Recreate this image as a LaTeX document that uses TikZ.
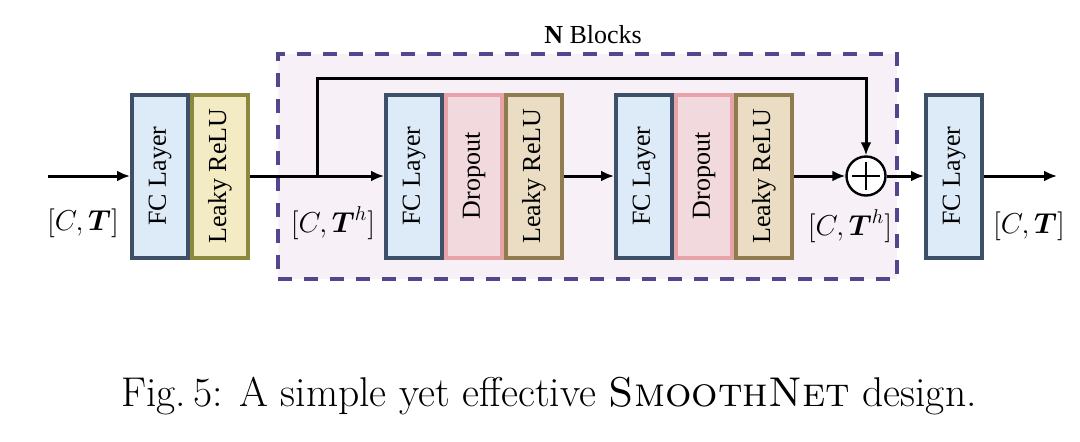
\documentclass[tikz,border=0pt]{standalone}
\usepackage{amsmath}
\usepackage{fontspec}
\usetikzlibrary{positioning,arrows.meta}
\newfontfamily\timesfont{Liberation Serif}
\newcommand{\boxfont}{\timesfont\fontsize{13}{15}\selectfont}

\definecolor{fcfill}{HTML}{DDEBF8}
\definecolor{fcedge}{HTML}{3D5068}
\definecolor{dropfill}{HTML}{F1D9DD}
\definecolor{dropedge}{HTML}{E8A3A9}
\definecolor{reluafill}{HTML}{F3EBC3}
\definecolor{reluaedge}{HTML}{8C893F}
\definecolor{relubfill}{HTML}{EADDC3}
\definecolor{relubedge}{HTML}{8E7C4E}
\definecolor{framefill}{HTML}{F7F0F7}
\definecolor{frameedge}{HTML}{54468E}

\tikzset{
  layer/.style={draw, line width=2pt, minimum width=28pt, minimum height=81.5pt, inner sep=0pt, font=\boxfont},
  fclayer/.style={layer, draw=fcedge, fill=fcfill},
  dropbox/.style={layer, draw=dropedge, fill=dropfill},
  relua/.style={layer, draw=reluaedge, fill=reluafill},
  relub/.style={layer, draw=relubedge, fill=relubfill},
  blockframe/.style={draw=frameedge, fill=framefill, line width=1.8pt, dash pattern=on 7pt off 6pt, minimum width=309.5pt, minimum height=112.5pt, inner sep=0pt},
  adder/.style={draw, circle, fill=white, line width=1.2pt, minimum size=19.5pt, inner sep=0pt,
    path picture={\draw[line width=1.1pt] ([xshift=-7pt]path picture bounding box.center) -- ([xshift=7pt]path picture bounding box.center)
      ([yshift=-7pt]path picture bounding box.center) -- ([yshift=7pt]path picture bounding box.center);}},
  flow/.style={line width=1.5pt, -{Latex[length=6.5pt,width=5.5pt]}},
  dimlabel/.style={font=\fontsize{13.6}{16}\selectfont, inner sep=0pt}
}

\begin{document}
\begin{tikzpicture}[x=0.5pt, y=-0.5pt]
\useasboundingbox (0,0) rectangle (1080,441);
% block frame
\node[blockframe] (nblock) at (587.5,166.5) {};
\node[anchor=base, font=\boxfont] (ntitle) at (593,43) {\textbf{N} Blocks};

\node[fclayer] (fc1) at (160,176) {\rotatebox{90}{FC Layer}};
\node[relua, right=0pt of fc1] (relu1) {\rotatebox{90}{Leaky ReLU}};
\node[fclayer] (fc2) at (414,176) {\rotatebox{90}{FC Layer}};
\node[dropbox, right=0pt of fc2] (drop1) {\rotatebox{90}{Dropout}};
\node[relub, right=0pt of drop1] (relu2) {\rotatebox{90}{Leaky ReLU}};
\node[fclayer] (fc3) at (644,176) {\rotatebox{90}{FC Layer}};
\node[dropbox, right=0pt of fc3] (drop2) {\rotatebox{90}{Dropout}};
\node[relub, right=0pt of drop2] (relu3) {\rotatebox{90}{Leaky ReLU}};
\node[adder] (add) at (866,176) {};
\node[fclayer] (fc4) at (954,176) {\rotatebox{90}{FC Layer}};

\coordinate (in) at (48,176);
\coordinate (out) at (1057,176);
\coordinate (split) at (317,176);
\coordinate (skip) at (317,78);

\path[draw,flow] (in) -- (fc1);
\path[draw,flow] (relu1) -- (fc2);
\path[draw,flow] (split) -- (skip) -| (add.north);
\path[draw,flow] (relu2) -- (fc3);
\path[draw,flow] (relu3) -- (add);
\path[draw,flow] (add) -- (fc4);
\path[draw,flow] (fc4) -- (out);

\node[dimlabel] (inlabel) at (83,223) {$[C,\boldsymbol{T}]$};
\node[dimlabel] (hlabel1) at (333,223) {$[C,\boldsymbol{T}^h]$};
\node[dimlabel] (hlabel2) at (850,226) {$[C,\boldsymbol{T}^h]$};
\node[dimlabel] (outlabel) at (1029,226) {$[C,\boldsymbol{T}]$};

\node[anchor=base, font=\fontsize{20.8}{25}\selectfont] (caption) at (549,406) {Fig.\,5: A simple yet effective \textsc{SmoothNet} design.};
\end{tikzpicture}
\end{document}
